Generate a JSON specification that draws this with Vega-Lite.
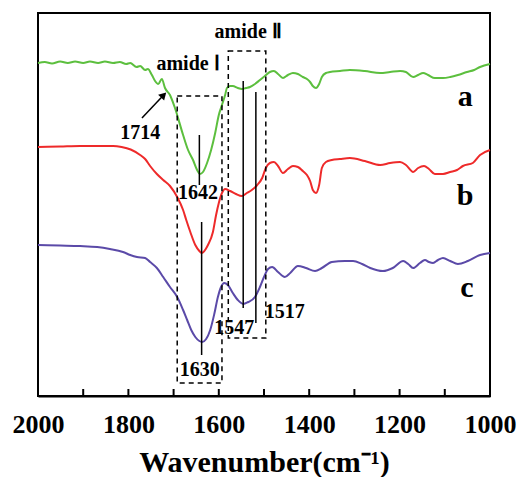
{
  "$schema": "https://vega.github.io/schema/vega-lite/v6.json",
  "width": 452,
  "height": 383,
  "autosize": {"type": "none"},
  "padding": {"left": 38, "top": 13, "right": 30, "bottom": 81},
  "background": "white",
  "config": {
    "view": {"stroke": "black", "strokeWidth": 2},
    "font": "Liberation Serif"
  },
  "datasets": {
    "curves": [
      {"s":"a","w":2000,"v":333},{"s":"a","w":1985,"v":334},{"s":"a","w":1969,"v":332.5},{"s":"a","w":1951,"v":334.5},{"s":"a","w":1934,"v":333},{"s":"a","w":1918,"v":334.5},{"s":"a","w":1900,"v":333},{"s":"a","w":1885,"v":334.5},{"s":"a","w":1867,"v":333},{"s":"a","w":1852,"v":334.5},{"s":"a","w":1834,"v":333},{"s":"a","w":1819,"v":334},{"s":"a","w":1805,"v":332},{"s":"a","w":1796,"v":333},{"s":"a","w":1782,"v":329},{"s":"a","w":1774,"v":330},{"s":"a","w":1763,"v":326},{"s":"a","w":1757,"v":327},{"s":"a","w":1748,"v":321},{"s":"a","w":1741,"v":315},{"s":"a","w":1734,"v":312},{"s":"a","w":1726,"v":317},{"s":"a","w":1719,"v":308},{"s":"a","w":1708,"v":301},{"s":"a","w":1697,"v":288},{"s":"a","w":1679,"v":261},{"s":"a","w":1668,"v":246},{"s":"a","w":1657,"v":236},{"s":"a","w":1648,"v":226},{"s":"a","w":1642,"v":222},{"s":"a","w":1635,"v":224},{"s":"a","w":1626,"v":233},{"s":"a","w":1617,"v":246},{"s":"a","w":1608,"v":263},{"s":"a","w":1600,"v":281},{"s":"a","w":1593,"v":291},{"s":"a","w":1586,"v":301},{"s":"a","w":1582,"v":308},{"s":"a","w":1575,"v":310},{"s":"a","w":1569,"v":310},{"s":"a","w":1558,"v":308},{"s":"a","w":1549,"v":307},{"s":"a","w":1540,"v":308},{"s":"a","w":1531,"v":309},{"s":"a","w":1520,"v":312},{"s":"a","w":1509,"v":316},{"s":"a","w":1498,"v":320},{"s":"a","w":1487,"v":324},{"s":"a","w":1478,"v":325},{"s":"a","w":1469,"v":322},{"s":"a","w":1458,"v":318},{"s":"a","w":1447,"v":321},{"s":"a","w":1436,"v":323},{"s":"a","w":1425,"v":322},{"s":"a","w":1414,"v":319},{"s":"a","w":1405,"v":317},{"s":"a","w":1398,"v":314},{"s":"a","w":1392,"v":310},{"s":"a","w":1385,"v":308},{"s":"a","w":1378,"v":312},{"s":"a","w":1372,"v":319},{"s":"a","w":1363,"v":323},{"s":"a","w":1354,"v":324},{"s":"a","w":1332,"v":325},{"s":"a","w":1310,"v":326},{"s":"a","w":1277,"v":325},{"s":"a","w":1243,"v":323},{"s":"a","w":1221,"v":324},{"s":"a","w":1199,"v":325},{"s":"a","w":1186,"v":324},{"s":"a","w":1170,"v":319},{"s":"a","w":1159,"v":321},{"s":"a","w":1148,"v":323},{"s":"a","w":1137,"v":321},{"s":"a","w":1122,"v":318},{"s":"a","w":1104,"v":318},{"s":"a","w":1088,"v":319},{"s":"a","w":1071,"v":321},{"s":"a","w":1051,"v":324},{"s":"a","w":1035,"v":326},{"s":"a","w":1022,"v":329},{"s":"a","w":1000,"v":332},

      {"s":"b","w":2000,"v":249},{"s":"b","w":1951,"v":249.5},{"s":"b","w":1907,"v":250},{"s":"b","w":1863,"v":250},{"s":"b","w":1834,"v":250},{"s":"b","w":1815,"v":249},{"s":"b","w":1795,"v":246.5},{"s":"b","w":1774,"v":241},{"s":"b","w":1763,"v":237},{"s":"b","w":1752,"v":230},{"s":"b","w":1737,"v":222},{"s":"b","w":1723,"v":216},{"s":"b","w":1708,"v":210},{"s":"b","w":1692,"v":199},{"s":"b","w":1679,"v":186},{"s":"b","w":1672,"v":176},{"s":"b","w":1663,"v":164},{"s":"b","w":1652,"v":151},{"s":"b","w":1643,"v":145},{"s":"b","w":1638,"v":143},{"s":"b","w":1624,"v":151},{"s":"b","w":1613,"v":164},{"s":"b","w":1606,"v":181},{"s":"b","w":1600,"v":193},{"s":"b","w":1593,"v":203},{"s":"b","w":1586,"v":207},{"s":"b","w":1575,"v":205},{"s":"b","w":1562,"v":202},{"s":"b","w":1549,"v":200},{"s":"b","w":1538,"v":203},{"s":"b","w":1527,"v":206},{"s":"b","w":1515,"v":211},{"s":"b","w":1504,"v":218},{"s":"b","w":1496,"v":228},{"s":"b","w":1487,"v":233},{"s":"b","w":1478,"v":234},{"s":"b","w":1469,"v":230},{"s":"b","w":1458,"v":223},{"s":"b","w":1447,"v":227},{"s":"b","w":1436,"v":230},{"s":"b","w":1425,"v":229},{"s":"b","w":1414,"v":225},{"s":"b","w":1405,"v":221},{"s":"b","w":1398,"v":215},{"s":"b","w":1392,"v":206},{"s":"b","w":1385,"v":203},{"s":"b","w":1378,"v":211},{"s":"b","w":1372,"v":228},{"s":"b","w":1363,"v":234},{"s":"b","w":1350,"v":236},{"s":"b","w":1332,"v":237},{"s":"b","w":1310,"v":238},{"s":"b","w":1277,"v":235},{"s":"b","w":1243,"v":231},{"s":"b","w":1221,"v":233},{"s":"b","w":1199,"v":234},{"s":"b","w":1186,"v":231},{"s":"b","w":1170,"v":224},{"s":"b","w":1159,"v":228},{"s":"b","w":1146,"v":230},{"s":"b","w":1135,"v":227},{"s":"b","w":1122,"v":222},{"s":"b","w":1104,"v":222},{"s":"b","w":1088,"v":224},{"s":"b","w":1073,"v":226},{"s":"b","w":1060,"v":230},{"s":"b","w":1038,"v":233},{"s":"b","w":1022,"v":241},{"s":"b","w":1000,"v":246},

      {"s":"c","w":2000,"v":151},{"s":"c","w":1951,"v":150.5},{"s":"c","w":1907,"v":150},{"s":"c","w":1869,"v":149},{"s":"c","w":1841,"v":147},{"s":"c","w":1812,"v":144},{"s":"c","w":1796,"v":141},{"s":"c","w":1781,"v":139},{"s":"c","w":1763,"v":138},{"s":"c","w":1752,"v":134},{"s":"c","w":1737,"v":128},{"s":"c","w":1723,"v":119},{"s":"c","w":1708,"v":109},{"s":"c","w":1692,"v":99},{"s":"c","w":1679,"v":86},{"s":"c","w":1670,"v":76},{"s":"c","w":1661,"v":66},{"s":"c","w":1652,"v":59},{"s":"c","w":1643,"v":55},{"s":"c","w":1637,"v":54},{"s":"c","w":1628,"v":57},{"s":"c","w":1619,"v":66},{"s":"c","w":1610,"v":82},{"s":"c","w":1602,"v":99},{"s":"c","w":1595,"v":109},{"s":"c","w":1588,"v":113},{"s":"c","w":1580,"v":111},{"s":"c","w":1569,"v":103},{"s":"c","w":1558,"v":96},{"s":"c","w":1546,"v":92},{"s":"c","w":1535,"v":94},{"s":"c","w":1520,"v":99},{"s":"c","w":1509,"v":109},{"s":"c","w":1500,"v":119},{"s":"c","w":1491,"v":127},{"s":"c","w":1482,"v":129},{"s":"c","w":1469,"v":124},{"s":"c","w":1454,"v":119},{"s":"c","w":1442,"v":123},{"s":"c","w":1425,"v":130},{"s":"c","w":1407,"v":128},{"s":"c","w":1387,"v":125},{"s":"c","w":1372,"v":128},{"s":"c","w":1350,"v":134},{"s":"c","w":1321,"v":135},{"s":"c","w":1303,"v":135},{"s":"c","w":1283,"v":132},{"s":"c","w":1265,"v":128},{"s":"c","w":1237,"v":125},{"s":"c","w":1215,"v":128},{"s":"c","w":1192,"v":135},{"s":"c","w":1181,"v":132},{"s":"c","w":1170,"v":128},{"s":"c","w":1155,"v":133},{"s":"c","w":1144,"v":136},{"s":"c","w":1135,"v":134},{"s":"c","w":1126,"v":133},{"s":"c","w":1115,"v":136},{"s":"c","w":1104,"v":138},{"s":"c","w":1088,"v":135},{"s":"c","w":1071,"v":132},{"s":"c","w":1049,"v":135},{"s":"c","w":1022,"v":141},{"s":"c","w":1000,"v":143}
    ],
    "boxes": [
      {"w":1692,"w2":1593,"v":300,"v2":13},
      {"w":1579,"w2":1496,"v":345,"v2":58}
    ],
    "rules": [
      {"w":1643,"w2":1643,"v":261,"v2":211},
      {"w":1638,"w2":1638,"v":174,"v2":41},
      {"w":1546,"w2":1546,"v":315,"v2":88},
      {"w":1518,"w2":1518,"v":304,"v2":73},
      {"w":1770,"w2":1724,"v":278,"v2":300}
    ],
    "ticks": [
      {"w":1900,"v":0,"v2":7},{"w":1800,"v":0,"v2":7},{"w":1700,"v":0,"v2":7},{"w":1600,"v":0,"v2":7},{"w":1500,"v":0,"v2":7},{"w":1400,"v":0,"v2":7},{"w":1300,"v":0,"v2":7},{"w":1200,"v":0,"v2":7},{"w":1100,"v":0,"v2":7}
    ],
    "heads": [{"w":1722,"v":301}],
    "labels": [
      {"t":"amide Ⅰ","w":1668,"v":332,"size":20},
      {"t":"amide Ⅱ","w":1535,"v":364,"size":20},
      {"t":"1714","w":1774,"v":263,"size":20},
      {"t":"1642","w":1646,"v":203,"size":20},
      {"t":"1630","w":1642,"v":26,"size":20},
      {"t":"1547","w":1566,"v":68,"size":20},
      {"t":"1517","w":1454,"v":84,"size":20},
      {"t":"a","w":1055,"v":299,"size":30},
      {"t":"b","w":1055,"v":200,"size":30},
      {"t":"c","w":1051,"v":108,"size":30}
    ]
  },
  "layer": [
    {
      "data": {"name": "curves"},
      "mark": {"type": "line", "strokeWidth": 2, "interpolate": "monotone"},
      "encoding": {
        "x": {"field": "w", "type": "quantitative",
          "scale": {"domain": [2000, 1000], "nice": false, "zero": false},
          "axis": {
            "values": [2000,1800,1600,1400,1200,1000],
            "format": "d",
            "labelOverlap": false,
            "labelFlush": false,
            "grid": false,
            "ticks": false,
            "domainColor": "black",
            "domainWidth": 2,
            "labelFont": "Liberation Serif",
            "labelFontWeight": "bold",
            "labelFontSize": 26,
            "labelColor": "black",
            "labelPadding": 15,
            "title": "Wavenumber(cm⁻¹)",
            "titleFont": "Liberation Serif",
            "titleFontWeight": "bold",
            "titleFontSize": 30,
            "titleColor": "black",
            "titlePadding": 10
          }
        },
        "y": {"field": "v", "type": "quantitative",
          "scale": {"domain": [0, 383], "nice": false, "zero": false},
          "axis": null},
        "color": {"field": "s", "type": "nominal",
          "scale": {"domain": ["a","b","c"], "range": ["#5cbf3e","#ee2a2a","#5b4aa8"]},
          "legend": null}
      }
    },
    {
      "data": {"name": "ticks"},
      "mark": {"type": "rule", "color": "black", "strokeWidth": 2},
      "encoding": {
        "x": {"field": "w", "type": "quantitative"},
        "y": {"field": "v", "type": "quantitative"},
        "y2": {"field": "v2"}
      }
    },
    {
      "data": {"name": "boxes"},
      "mark": {"type": "rect", "fill": null, "stroke": "black", "strokeWidth": 1.5, "strokeDash": [5, 4]},
      "encoding": {
        "x": {"field": "w", "type": "quantitative"},
        "x2": {"field": "w2"},
        "y": {"field": "v", "type": "quantitative"},
        "y2": {"field": "v2"}
      }
    },
    {
      "data": {"name": "rules"},
      "mark": {"type": "rule", "color": "black", "strokeWidth": 1.5},
      "encoding": {
        "x": {"field": "w", "type": "quantitative"},
        "x2": {"field": "w2"},
        "y": {"field": "v", "type": "quantitative"},
        "y2": {"field": "v2"}
      }
    },
    {
      "data": {"name": "heads"},
      "mark": {"type": "point", "shape": "triangle-up", "filled": true, "color": "black", "size": 70, "angle": 44, "opacity": 1},
      "encoding": {
        "x": {"field": "w", "type": "quantitative"},
        "y": {"field": "v", "type": "quantitative"}
      }
    },
    {
      "data": {"name": "labels"},
      "mark": {"type": "text", "font": "Liberation Serif", "fontWeight": "bold", "color": "black", "align": "center", "baseline": "middle"},
      "encoding": {
        "x": {"field": "w", "type": "quantitative"},
        "y": {"field": "v", "type": "quantitative"},
        "text": {"field": "t"},
        "size": {"field": "size", "type": "quantitative", "scale": null}
      }
    }
  ]
}
